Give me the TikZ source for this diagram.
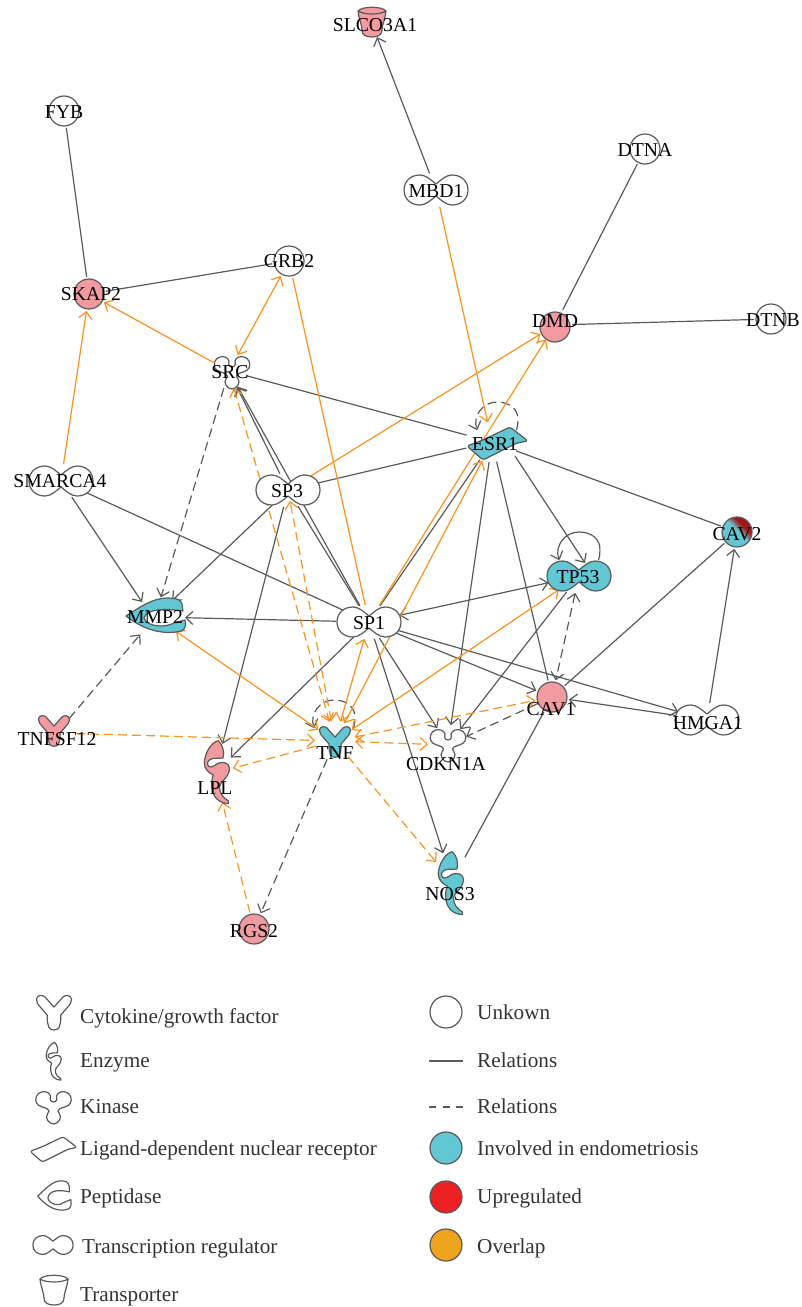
\documentclass[tikz,border=0pt]{standalone}
\usepackage{fontspec}
\setmainfont{Liberation Serif}
\usetikzlibrary{arrows.meta,shapes.geometric}
\definecolor{lg}{HTML}{5A5A5A}
\definecolor{lo}{HTML}{F7931E}
\definecolor{cpink}{HTML}{F19BA0}
\definecolor{cteal}{HTML}{62C6D3}
\definecolor{cred}{HTML}{ED2024}
\definecolor{cgold}{HTML}{EEA41D}
\definecolor{cdred}{HTML}{A31616}
\definecolor{ctxt}{HTML}{333333}
\pgfdeclarelayer{edges}
\pgfsetlayers{edges,main}
\pgfdeclareverticalshading{cavshade}{100bp}{color(0bp)=(cteal); color(52bp)=(cteal); color(64bp)=(cdred); color(100bp)=(cdred)}
\tikzset{
  >={Straight Barb[length=7pt,width=13pt]},
  gl/.style={draw=lg,line width=1.2pt},
  gld/.style={draw=lg,line width=1.2pt,dash pattern=on 9pt off 5pt},
  ol/.style={draw=lo,line width=1.2pt},
  old/.style={draw=lo,line width=1.2pt,dash pattern=on 9pt off 5pt},
  hub/.style 2 args={ellipse,minimum width=#1pt,minimum height=#2pt,inner sep=0pt,outer sep=0pt},
  lab/.style={inner sep=0pt,yshift=-0.7pt,text=black,font=\fontsize{19.7pt}{22pt}\selectfont},
  leg/.style={inner sep=0pt,anchor=base west,text=ctxt,font=\fontsize{21.2pt}{23pt}\selectfont},
  sl/.style={draw=lg,line width=1.2pt,line join=round},
  swatch/.style={circle,draw=lg,line width=1.2pt,minimum size=32pt,inner sep=0pt},
  circshape/.pic={\path[sl,pic actions] (0,0) circle[radius=15];},
  tfshape/.pic={\path[sl,pic actions] (0,-6) .. controls (5,-10) and (10,-15) .. (16,-15) .. controls (25,-15) and (32,-9) .. (32,0) .. controls (32,9) and (25,15) .. (16,15) .. controls (10,15) and (5,10) .. (0,6) .. controls (-5,10) and (-10,15) .. (-16,15) .. controls (-25,15) and (-32,9) .. (-32,0) .. controls (-32,-9) and (-25,-15) .. (-16,-15) .. controls (-10,-15) and (-5,-10) .. (0,-6) -- cycle;},
  cytoshape/.pic={\path[sl,pic actions] (0,-7) -- (8,-16) .. controls (10,-18) and (15,-18) .. (15.5,-14) .. controls (15.5,-11) and (14,-9) .. (13,-8) -- (6,0) .. controls (6,5) and (6,8) .. (4.5,11) .. controls (3,14) and (-3,14) .. (-4.5,11) .. controls (-6,8) and (-6,5) .. (-6,0) -- (-13,-8) .. controls (-14,-9) and (-15.5,-11) .. (-15.5,-14) .. controls (-15,-18) and (-10,-18) .. (-8,-16) -- cycle;},
  enzshape/.pic={\path[sl,pic actions] (4.3,-29.3) .. controls (-3,-28) and (-9.7,-16) .. (-9.7,-6.7) .. controls (-9.7,-1) and (-5,3) .. (-0.7,5) .. controls (-3.5,12) and (-3,24) .. (3,29) .. controls (6,32) and (10,33.5) .. (14.5,33.5) -- (14.5,31) .. controls (9,28) and (5.5,23) .. (5.5,17) .. controls (5.5,12) and (15,8) .. (15.5,-1.5) .. controls (15.5,-7) and (9,-9) .. (4,-6.7) .. controls (1,-5) and (-1,-3) .. (-3,-3) .. controls (-7,-3) and (-8,-8) .. (-4,-10.5) .. controls (-1,-12.5) and (5,-11.5) .. (9,-12) .. controls (10.5,-18) and (9,-25) .. (4.3,-29.3) -- cycle;},
  kinshape/.pic={\path[sl,pic actions] (0,-5) .. controls (3,-5) and (4,-8) .. (3,-11) .. controls (4,-15) and (9,-16) .. (12,-15) .. controls (17,-14) and (19,-8) .. (17,-4) .. controls (15,0) and (9,0) .. (6,2) .. controls (4,3) and (4,5) .. (6,7) .. controls (9,10) and (5,17) .. (0,17) .. controls (-5,17) and (-9,10) .. (-6,7) .. controls (-4,5) and (-4,3) .. (-6,2) .. controls (-9,0) and (-15,0) .. (-17,-4) .. controls (-19,-8) and (-17,-14) .. (-12,-15) .. controls (-9,-16) and (-4,-15) .. (-3,-11) .. controls (-4,-8) and (-3,-5) .. (0,-5) -- cycle;},
  recshape/.pic={\path[sl,pic actions,rounded corners=2.5pt] (-24,3) -- (-8,-3) -- (19,-16) -- (37,-2) -- (26,0) -- (-8,17) -- cycle;},
  pepshape/.pic={\path[sl,pic actions] (-29,-1) .. controls (-15,-10) and (-2,-19) .. (12,-19) .. controls (20,-19) and (26,-18) .. (27,-13) -- (28,-6) .. controls (8,-9) and (-8,-8) .. (-11,1) .. controls (-8,10) and (10,11) .. (19,6) -- (30,3) .. controls (31,8) and (31,12) .. (26,14) .. controls (10,18) and (-10,14) .. (-29,-1) -- cycle;},
  transshape/.pic={\path[sl,pic actions] (-14,-13) .. controls (-13,-4) and (-10,1) .. (-10,6) .. controls (-10,11) and (-6,13) .. (0,13) .. controls (6,13) and (10,11) .. (10,6) .. controls (10,1) and (13,-4) .. (14,-13) .. controls (10,-18) and (-10,-18) .. (-14,-13) -- cycle; \path[sl] (-14,-13) .. controls (-8,-9) and (8,-9) .. (14,-13);},
}
\newcommand{\selfloop}[3]{\begin{scope}[shift={(#1.center)},shift={(#2)}]\draw[#3] (19.5,7) .. controls (20.7,3) and (21,0) .. (20.9,-1.8) .. controls (22,-14) and (12.3,-21) .. (0,-21) .. controls (-14.6,-21) and (-24.7,-6.5) .. (-19.7,7.2);\end{scope}}
\begin{document}
\begin{tikzpicture}[x=1pt,y=-1pt]
\useasboundingbox (0,0) rectangle (802,1307);
% nodes
\node[hub={28}{28}] (SLCO) at (372,24) {};
\pic[fill=cpink] at (372,24) {transshape};
\node[lab] (SLCOt) at (375,24) {SLCO3A1};
\node[hub={34}{34}] (FYB) at (64,111) {};
\pic[fill=white] at (FYB) {circshape};
\node[lab] (FYBt) at (64,111) {FYB};
\node[hub={66}{34}] (MBD1) at (436,190) {};
\pic[fill=white] at (MBD1) {tfshape};
\node[lab] (MBD1t) at (436,190) {MBD1};
\node[hub={34}{34}] (DTNA) at (645,149) {};
\pic[fill=white] at (DTNA) {circshape};
\node[lab] (DTNAt) at (645,149) {DTNA};
\node[hub={34}{34}] (GRB2) at (289,261) {};
\pic[fill=white] at (GRB2) {circshape};
\node[lab] (GRB2t) at (289,260) {GRB2};
\node[hub={34}{34}] (SKAP2) at (89,294) {};
\pic[fill=cpink] at (SKAP2) {circshape};
\node[lab] (SKAP2t) at (91,293) {SKAP2};
\node[hub={34}{34}] (DMD) at (555,325) {};
\pic[fill=cpink] at (555,327) {circshape};
\node[lab] (DMDt) at (555,320) {DMD};
\node[hub={34}{34}] (DTNB) at (771,319) {};
\pic[fill=white] at (DTNB) {circshape};
\node[lab] (DTNBt) at (773,319) {DTNB};
\node[hub={36}{36}] (SRC) at (229,371) {};
\pic[fill=white] at (232,372) {kinshape};
\node[lab] (SRCt) at (230,371) {SRC};
\node[hub={54}{40}] (ESR1) at (492,442) {};
\pic[fill=cteal] at (491,443) {recshape};
\node[lab] (ESR1t) at (495,443) {ESR1};
\node[hub={66}{34}] (SMARCA4) at (61,481) {};
\pic[fill=white] at (SMARCA4) {tfshape};
\node[lab] (SMARCA4t) at (60,480) {SMARCA4};
\node[hub={66}{34}] (SP3) at (288,490) {};
\pic[fill=white] at (SP3) {tfshape};
\node[lab] (SP3t) at (287,490) {SP3};
\node[hub={34}{34}] (CAV2) at (737,532) {};
\shadedraw[sl,shading=cavshade,shading angle=-45] (CAV2.center) circle[radius=15];
\node[lab] (CAV2t) at (737,533) {CAV2};
\node[hub={66}{34}] (TP53) at (579,576) {};
\pic[fill=cteal] at (TP53) {tfshape};
\node[lab] (TP53t) at (578,576) {TP53};
\node[hub={60}{40}] (MMP2) at (155,617) {};
\pic[fill=cteal] at (MMP2) {pepshape};
\node[lab] (MMP2t) at (155,616) {MMP2};
\node[hub={66}{34}] (SP1) at (369,622) {};
\pic[fill=white] at (SP1) {tfshape};
\node[lab] (SP1t) at (369,622) {SP1};
\node[hub={34}{34}] (CAV1) at (552,697) {};
\pic[fill=cpink] at (CAV1) {circshape};
\node[lab] (CAV1t) at (551,708) {CAV1};
\node[hub={66}{34}] (HMGA1) at (707,720) {};
\pic[fill=white] at (HMGA1) {tfshape};
\node[lab] (HMGA1t) at (708,722) {HMGA1};
\node[hub={38}{38}] (TNFSF12) at (57,733) {};
\pic[fill=cpink] at (54,733) {cytoshape};
\node[lab] (TNFSF12t) at (57,738) {TNFSF12};
\node[hub={40}{40}] (TNF) at (335,741) {};
\pic[fill=cteal] at (335,744) {cytoshape};
\node[lab] (TNFt) at (335,752) {TNF};
\node[hub={40}{40}] (CDKN1A) at (448,745) {};
\pic[fill=white] at (448,745) {kinshape};
\node[lab] (CDKN1At) at (446,763) {CDKN1A};
\node[hub={36}{64}] (LPL) at (215,773) {};
\pic[fill=cpink] at (214,770) {enzshape};
\node[lab] (LPLt) at (215,787) {LPL};
\node[hub={40}{62}] (NOS3) at (452,881) {};
\pic[fill=cteal] at (448,881) {enzshape};
\node[lab] (NOS3t) at (450,893) {NOS3};
\node[hub={34}{34}] (RGS2) at (254,929) {};
\pic[fill=cpink] at (RGS2) {circshape};
\node[lab] (RGS2t) at (254,930) {RGS2};
% edges
\begin{pgfonlayer}{edges}
\draw[gl] (FYB) -- (SKAP2);
\draw[gl] (SKAP2) -- (GRB2);
\draw[gl,->] (MBD1) -- (SLCO);
\draw[gl] (DTNA) -- (DMD);
\draw[gl] (DMD) -- (DTNB);
\draw[gl] (SRC) -- (ESR1);
\draw[gl,->] (SP3) -- (SRC);
\draw[gl,->] (SP1) -- (SRC);
\draw[gl] (SP3) -- (SP1);
\draw[gl] (SP3) -- (ESR1);
\draw[gl,->] (SP3) -- (MMP2);
\draw[gl,->] (SP3) -- (LPL);
\draw[gl,->] (SMARCA4) -- ([shift={(-13,-15)}]MMP2.center);
\draw[gl] (SMARCA4) -- (SP1);
\draw[gl,->] (SP1) -- (MMP2);
\draw[gl,->] (SP1) -- (LPL);
\draw[gl,->] (SP1) -- (NOS3);
\draw[gl] (NOS3) -- (CAV1);
\draw[gl,->] (SP1) -- (CDKN1A);
\draw[gl,->] (ESR1) -- (CDKN1A);
\draw[gl,->] (TP53) -- (CDKN1A);
\draw[gl,->] ([shift={(23,14)}]ESR1.center) -- ([shift={(6,-13)}]TP53.center);
\draw[gl,<->] (SP1) -- (TP53);
\draw[gl,->] (SP1) -- (CAV1);
\draw[gl,->] (SP1) -- (HMGA1);
\draw[gl,->] (HMGA1) -- (CAV1);
\draw[gl,->] (HMGA1) -- (CAV2);
\draw[gl] (CAV1) -- (CAV2);
\draw[gl] (ESR1) -- (CAV2);
\draw[gl] (ESR1) -- (CAV1);
\draw[gl] (ESR1) -- (SP1);
\draw[gld,->] (SRC) -- (MMP2);
\draw[gld,->] (TNFSF12) -- (MMP2);
\draw[gld,->] (TNF) -- (RGS2);
\draw[gld,<->] (TP53) -- (CAV1);
\draw[gld,->] (CAV1) -- (CDKN1A);
\selfloop{ESR1}{5,-19}{gld,->}
\selfloop{TNF}{-1,-20}{gld,->}
\selfloop{TP53}{0,-23}{gl,->}
\draw[ol,->] (SRC) -- (SKAP2);
\draw[ol,->] (SMARCA4) -- (SKAP2);
\draw[ol,<->] (SRC) -- (GRB2);
\draw[ol] (GRB2) -- (SP1);
\draw[ol,->] (MBD1) -- (ESR1);
\draw[ol,->] (SP3) -- (DMD);
\draw[ol,->] (SP1) -- (DMD);
\draw[ol,<->] (TNF) -- (ESR1);
\draw[ol,<->] (TNF) -- (SP1);
\draw[ol,<->] (MMP2) -- (TNF);
\draw[ol,<->] (TNF) -- (TP53);
\draw[old,<->] (SRC) -- (TNF);
\draw[old,<->] (TNF) -- ([shift={(2,11)}]SP3.center);
\draw[old,->] (TNFSF12) -- (TNF);
\draw[old,->] (TNF) -- (LPL);
\draw[old,->] (RGS2) -- (LPL);
\draw[old,->] (TNF) -- (NOS3);
\draw[old,<->] (TNF) -- (CDKN1A);
\draw[old,<->] (TNF) -- (CAV1);
\end{pgfonlayer}
% legend, left column
\pic[fill=white,scale=1.13] at (54,1015) {cytoshape};
\node[leg] (l1) at (80,1023) {Cytokine/growth factor};
\pic[fill=white,scale=.6] at (52,1060) {enzshape};
\node[leg] (l2) at (80,1067) {Enzyme};
\pic[fill=white,scale=1.0] at (53.5,1107) {kinshape};
\node[leg] (l3) at (80,1113) {Kinase};
\pic[fill=white,scale=.77] at (48.5,1149) {recshape};
\node[leg] (l4) at (80,1155) {Ligand-dependent nuclear receptor};
\pic[fill=white,xscale=.56,yscale=.85] at (54,1197) {pepshape};
\node[leg] (l5) at (80,1203) {Peptidase};
\pic[fill=white,scale=.63] at (53,1245) {tfshape};
\node[leg] (l6) at (82,1253) {Transcription regulator};
\pic[fill=white] at (54,1292) {transshape};
\node[leg] (l7) at (80,1301) {Transporter};
% legend, right column
\node[swatch,fill=white] (s1) at (446,1012) {};
\node[leg] (r1) at (477,1019) {Unkown};
\coordinate (rsa) at (429,1061);
\coordinate (rsb) at (463,1061);
\draw[gl] (rsa) -- (rsb);
\node[leg] (r2) at (477,1067) {Relations};
\coordinate (rda) at (429,1107);
\coordinate (rdb) at (463,1107);
\draw[gl,dash pattern=on 7pt off 6.5pt] (rda) -- (rdb);
\node[leg] (r3) at (477,1113) {Relations};
\node[swatch,fill=cteal] (s2) at (446,1148) {};
\node[leg] (r4) at (477,1155) {Involved in endometriosis};
\node[swatch,fill=cred] (s3) at (446,1197) {};
\node[leg] (r5) at (477,1203) {Upregulated};
\node[swatch,fill=cgold] (s4) at (446,1245) {};
\node[leg] (r6) at (477,1253) {Overlap};
\end{tikzpicture}
\end{document}
